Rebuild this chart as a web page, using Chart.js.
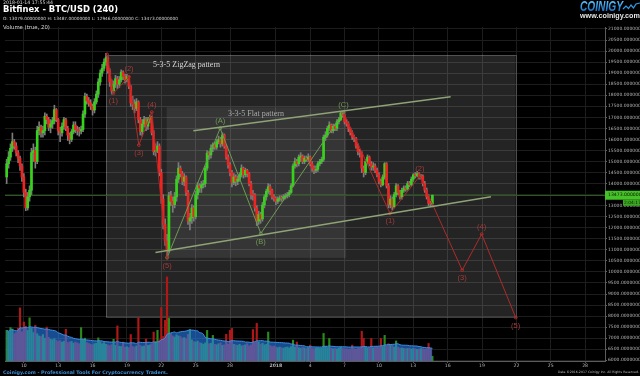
<!DOCTYPE html>
<html>
<head>
<meta charset="utf-8">
<script src="https://cdn.jsdelivr.net/npm/chart.js@4.4.1/dist/chart.umd.min.js"></script>
<style>
  html, body { margin: 0; padding: 0; background: #000; overflow: hidden; }
  canvas { display: block; }
</style>
</head>
<body>
<canvas id="chart" width="640" height="376"></canvas>
<script>
// Bitfinex BTC/USD, 240 minute candles starting 2017-12-08 12:00.
// x is measured in days of December 2017 (so 1 Jan 2018 = 32).
const firstCandleDay = 8.5;
const candleHours = 4;
const firstOpen = 14300;

const closes = [
  14900,15200,15600,15900,15700,15400,15150,14800,14300,13600,12900,13400,
  13700,15400,15500,15000,16400,16550,16300,16400,17050,16900,16550,16700,
  16850,17350,16900,16400,16300,16600,16900,16500,16200,16000,16350,16650,
  16450,16400,16380,16450,17150,17950,17750,17650,17500,17330,17700,18050,
  18600,19000,19220,19500,19700,19100,18600,18200,18500,18750,18500,18700,
  19050,18850,18700,18850,18400,17650,17600,17400,17700,16900,16350,16700,
  16900,16600,16900,17000,16300,15450,15500,15700,14500,13300,12150,11400,
  10950,13450,13200,13050,13400,14200,14700,14450,14100,14300,13600,12300,
  12450,12900,12500,13500,13900,13800,13950,14000,14700,15380,15300,15600,
  15750,15650,15900,16000,15800,16200,15700,15200,14850,14500,14050,14300,
  14100,14200,14400,14700,14400,14600,14450,14000,13500,13480,12900,12300,
  12600,12400,13030,13400,13650,13860,13700,13400,13330,13200,13300,13350,
  13330,13400,13450,13500,13600,13900,14800,15000,14900,15200,15250,15000,
  15150,15100,15200,14900,14700,14600,14650,14900,15000,15100,16100,16200,
  16500,16650,16400,16600,16500,16800,16900,17200,17100,16800,16700,16500,
  16300,16100,16050,15700,15450,15400,14700,14500,15000,15200,14900,14750,
  14800,14600,14400,14100,13950,14300,14900,13900,13050,13300,12950,13500,
  13900,13600,13400,13700,13800,13750,14000,13950,14200,14400,14350,14450,
  14300,14350,14000,13700,13400,13100,13079,13473
];

const highs = [
  15100,15450,15800,16290,16000,15850,15500,15250,14900,14450,13750,13600,
  13900,15600,15800,15650,16600,16800,16650,16600,17200,17150,17000,16900,
  17000,17550,17400,16950,16550,16750,17000,16950,16600,16300,16450,16800,
  16800,16600,16550,16600,17300,18100,18050,17900,17800,17600,17850,18200,
  18750,19150,19400,19650,19900,19750,19200,18700,18650,18900,18850,18850,
  19150,19100,18950,18950,18900,18450,17950,17800,17850,17750,17000,16900,
  17050,17000,17000,17100,17050,16400,15800,15900,15800,14650,13500,12400,
  11700,13600,13650,13400,13600,14350,14950,14800,14550,14450,14350,13700,
  12650,13050,13000,13650,14050,14000,14100,14150,14800,15500,15450,15750,
  15850,15850,16000,16150,16100,16300,16250,15750,15300,14950,14600,14450,
  14400,14350,14500,14850,14750,14700,14650,14500,14100,13700,13550,13000,
  12750,12700,13150,13500,13750,14000,13950,13750,13500,13400,13400,13450,
  13450,13500,13550,13600,13700,14000,14900,15150,15100,15300,15400,15300,
  15250,15250,15350,15250,15000,14800,14800,15000,15100,15200,16200,16350,
  16600,16800,16700,16700,16700,16900,17000,17250,17250,17150,16900,16800,
  16550,16400,16200,16100,15800,15550,15450,14800,15100,15300,15250,15000,
  14950,14900,14700,14500,14200,14400,14950,14950,14000,13450,13400,13600,
  14000,13950,13700,13800,13900,13900,14100,14100,14300,14450,14500,14550,
  14500,14420,14400,14100,13800,13500,13200,13487
];

const lows = [
  14000,14700,15050,15450,15550,15250,14950,14600,14100,13400,12770,12800,
  13200,13500,15000,14700,14900,16200,16100,16100,16200,16700,16400,16300,
  16500,16700,16800,16200,15900,16150,16450,16400,15950,15800,15900,16250,
  16300,16200,16150,16250,16350,17000,17600,17500,17350,17100,17200,17600,
  17900,18450,18850,19100,19350,19000,18400,18050,18100,18350,18300,18350,
  18600,18700,18550,18600,18300,17500,17350,17200,17300,16750,16200,16150,
  16550,16400,16450,16750,16200,15300,15250,15400,14350,13100,11950,11200,
  10700,10900,13000,12700,12900,13200,14050,14300,13950,13900,13450,12150,
  11900,12200,12300,12400,13300,13600,13600,13800,13850,14600,15100,15150,
  15450,15550,15550,15800,15650,15700,15600,15100,14700,14350,13850,13950,
  13900,13950,14100,14300,14250,14300,14300,13900,13300,13250,12750,12100,
  12150,12200,12300,12900,13250,13550,13500,13300,13200,13050,13100,13200,
  13200,13250,13300,13350,13400,13550,13850,14700,14750,14800,15000,14900,
  14900,15000,15000,14800,14550,14450,14500,14550,14800,14900,15000,15950,
  16100,16400,16300,16300,16400,16400,16700,16850,17000,16700,16600,16350,
  16200,16000,15900,15600,15300,15200,14500,14300,14400,14900,14800,14600,
  14600,14500,14300,14000,13850,13900,14200,13800,12900,12900,12800,12900,
  13400,13500,13300,13300,13600,13650,13700,13850,13900,14100,14250,14300,
  14200,14200,13900,13600,13300,13000,12950,12946
];

const volumes = [
  11000,10500,12000,11500,9800,10200,11800,19100,10500,14000,12500,11000,
  15500,11800,10200,12800,9800,9000,8800,9500,8200,12200,8500,7800,
  7600,8000,7400,7000,7300,6800,7100,11400,6600,6900,7000,6400,
  6800,6500,6200,12000,7600,8200,6600,6300,6000,5800,6200,6400,
  8300,6900,6200,6600,6000,5800,5500,5900,7800,5600,12600,5300,
  5200,6800,5000,5100,4800,9500,5200,5000,5400,15600,5600,5200,
  5400,7900,5600,5800,6200,10400,7000,11000,7600,19200,8800,14600,
  30200,15300,9800,9000,8600,9400,9000,8800,8200,8400,8000,9600,
  11300,7600,7000,6800,7200,6600,6400,6000,6500,11000,6200,6400,
  9200,6000,5800,6200,6500,5600,5800,9600,6000,11000,11700,6000,
  5800,5600,6000,5400,5600,5800,6200,5400,5800,11300,6600,13500,
  6800,6000,6400,5800,6000,10400,5600,5200,5400,5000,4800,5000,
  4800,4600,4900,5000,4700,5200,7500,5000,6800,4800,4600,4900,
  4700,4500,4800,5700,4500,4400,4600,4700,4500,4600,9900,5200,
  4800,8100,4600,4400,4500,4300,4600,5000,4500,4300,4400,4200,
  4300,5700,4400,4200,4500,4600,10700,8100,5000,4600,4800,8100,
  4700,4900,5000,4800,8100,5200,9200,5400,6200,5800,5600,5000,
  7200,5000,4600,4700,4500,4400,4500,4600,4300,4500,4400,4200,
  4300,4500,4400,4200,4300,6300,4400,1700
];
const volumeMaPeriod = 20;

const dateTicks = [10, 13, 16, 19, 22, 25, 28, 32, 35, 38, 41, 44, 47, 50, 53, 56, 59];
const dateTickLabels = ['10', '13', '16', '19', '22', '25', '28', '2018', '4', '7', '10', '13', '16', '19', '22', '25', '28'];
const priceTicks = [6000, 6500, 7000, 7500, 8000, 8500, 9000, 9500, 10000, 10500, 11000, 11500, 12000,
  12500, 13000, 13500, 14000, 14500, 15000, 15500, 16000, 16500, 17000, 17500, 18000, 18500, 19000,
  19500, 20000, 20500, 21000];

// hand drawn Elliott wave annotations, [day, price]
const zigzagWave = [[17.27, 19850], [17.82, 18087], [19.18, 18839], [20.04, 15744], [21.17, 17239], [22.51, 10650]];
const zigzagLabels = ['', '(1)', '(2)', '(3)', '(4)', '(5)'];
const flatWave = [[22.51, 10650], [27.14, 16501], [30.69, 11743], [37.90, 17226]];
const flatLabels = ['', '(A)', '(B)', '(C)'];
const forecastWave = [[37.90, 17226], [41.97, 12649], [44.57, 14340], [48.27, 10080], [49.97, 11711], [52.94, 7937]];
const forecastLabels = ['', '(1)', '(2)', '(3)', '(4)', '(5)'];
const channelTop = [[24.80, 16392], [47.26, 17933]];
const channelBottom = [[21.49, 10882], [50.78, 13401]];
// boxes: [dayFrom, dayTo, priceTop, priceBottom]
const zigzagBox = [17.17, 52.94, 19820, 7950];
const flatBox = [22.47, 38.14, 17452, 10638];
const boxTitles = [
  { text: '5-3-5 ZigZag pattern', day: 24.2, price: 19370 },
  { text: '3-3-5 Flat pattern', day: 30.26, price: 17135 }
];

const stamp = '2018-01-14 17:55:44';
const title = 'Bitfinex - BTC/USD (240)';
const countdown = '2:04:17';

// ---------------------------------------------------------------
const GREEN = '#36d31b';
const RED = '#ef2320';
const WAVE_RED = '#ad2c2a';
const WAVE_GREEN = '#6f9a56';

const candleX = closes.map((c, i) => firstCandleDay + i * candleHours / 24);
// each 4h candle opens at the previous close
const opens = closes.map((c, i) => (i ? closes[i - 1] : firstOpen));
const rising = closes.map((c, i) => c >= opens[i]);
const volumeMa = volumes.map((v, i) => {
  const win = volumes.slice(Math.max(0, i - volumeMaPeriod + 1), i + 1);
  return win.reduce((a, b) => a + b, 0) / win.length;
});
const last = closes.length - 1;

const pts = arr => arr.map(([x, y]) => ({ x, y }));

function waveSet(points, color, width, radius) {
  return {
    type: 'line', data: pts(points), order: 0,
    borderColor: color, borderWidth: width, tension: 0, fill: false,
    pointRadius: radius, pointBorderColor: color, pointBorderWidth: 1,
    pointBackgroundColor: 'rgba(0,0,0,0)', yAxisID: 'y'
  };
}

function fitFont(ctx, text, width, style, family) {
  ctx.font = `${style} 10px ${family}`;
  const size = 10 * width / ctx.measureText(text).width;
  ctx.font = `${style} ${size.toFixed(2)}px ${family}`;
}

const annotations = {
  id: 'annotations',
  beforeDatasetsDraw(chart) {
    const { ctx, chartArea, scales: { x, y } } = chart;
    ctx.save();
    const box = (b, fill, stroke) => {
      const x0 = x.getPixelForValue(b[0]), x1 = x.getPixelForValue(b[1]);
      const y0 = y.getPixelForValue(b[2]), y1 = y.getPixelForValue(b[3]);
      ctx.fillStyle = fill;
      ctx.fillRect(x0, y0, x1 - x0, y1 - y0);
      if (stroke) {
        ctx.strokeStyle = stroke;
        ctx.lineWidth = 1;
        ctx.strokeRect(Math.round(x0) + 0.5, Math.round(y0) + 0.5, Math.round(x1 - x0), Math.round(y1 - y0));
      }
    };
    box(zigzagBox, 'rgba(255,255,255,0.14)', 'rgba(255,255,255,0.22)');
    box(flatBox, 'rgba(255,255,255,0.08)', null);

    ctx.font = '8px "Liberation Serif"';
    ctx.textAlign = 'center';
    ctx.textBaseline = 'middle';
    boxTitles.forEach((t, i) => {
      ctx.fillStyle = i ? '#a9a9a9' : '#d8d8d8';
      ctx.fillText(t.text, x.getPixelForValue(t.day), y.getPixelForValue(t.price));
    });

    // last price line
    const py = Math.round(y.getPixelForValue(closes[last])) + 0.5;
    ctx.strokeStyle = '#2c5a1c';
    ctx.lineWidth = 1;
    ctx.beginPath();
    ctx.moveTo(chartArea.left, py);
    ctx.lineTo(chartArea.right, py);
    ctx.stroke();
    ctx.restore();
  },
  afterDatasetsDraw(chart) {
    const { ctx, scales: { x, y } } = chart;
    ctx.save();
    ctx.font = '7.5px "Liberation Sans"';
    ctx.textAlign = 'center';
    ctx.textBaseline = 'middle';
    const label = (points, names, color) => {
      ctx.fillStyle = color;
      points.forEach((p, i) => {
        if (!names[i]) return;
        const up = p[1] > points[i - 1][1];
        ctx.fillText(names[i], x.getPixelForValue(p[0]), y.getPixelForValue(p[1]) + (up ? -7.5 : 8));
      });
    };
    label(zigzagWave, zigzagLabels, '#a23c3a');
    label(flatWave, flatLabels, WAVE_GREEN);
    label(forecastWave, forecastLabels, '#a23c3a');
    ctx.restore();
  },
  afterDraw(chart) {
    const { ctx, chartArea, scales: { y } } = chart;
    ctx.save();
    ctx.textBaseline = 'middle';
    ctx.textAlign = 'left';

    // header
    ctx.fillStyle = '#cfcfcf';
    fitFont(ctx, stamp, 50, '', '"DejaVu Sans"');
    ctx.fillText(stamp, 3, 2.8);
    ctx.fillStyle = '#ffffff';
    fitFont(ctx, title, 115, 'bold', '"DejaVu Sans"');
    ctx.fillText(title, 3, 9.8);
    const ohlc = `O: ${opens[last].toFixed(8)} H: ${highs[last].toFixed(8)} L: ${lows[last].toFixed(8)} C: ${closes[last].toFixed(8)}`;
    ctx.fillStyle = '#d6d6d6';
    fitFont(ctx, ohlc, 175, '', '"DejaVu Sans"');
    ctx.fillText(ohlc, 3, 19);
    const volTitle = `Volume (true, ${volumeMaPeriod})`;
    fitFont(ctx, volTitle, 47, '', '"DejaVu Sans"');
    ctx.fillText(volTitle, 3, 27.4);

    // logo
    ctx.save();
    ctx.font = 'italic bold 15px "Liberation Sans"';
    const lw = ctx.measureText('COINIGY').width;
    ctx.translate(580, 11);
    ctx.scale(43 / lw, 0.95);
    const grad = ctx.createLinearGradient(0, -11, 0, 0);
    grad.addColorStop(0, '#5cc4ff');
    grad.addColorStop(1, '#1672c9');
    ctx.fillStyle = grad;
    ctx.textBaseline = 'alphabetic';
    ctx.fillText('COINIGY', 0, 0);
    ctx.restore();
    ctx.strokeStyle = '#2f9be8';
    ctx.lineWidth = 1.2;
    ctx.beginPath();
    [[623, 9], [626, 6], [628.5, 8.5], [631, 5], [633.5, 8], [636, 4], [640, 3]].forEach(([px, pyy], i) => i ? ctx.lineTo(px, pyy) : ctx.moveTo(px, pyy));
    ctx.stroke();
    ctx.fillStyle = '#e4e4e4';
    fitFont(ctx, 'www.coinigy.com', 60, 'bold', '"Liberation Sans"');
    ctx.fillText('www.coinigy.com', 580, 15.6);

    // price tag
    const py = y.getPixelForValue(closes[last]);
    ctx.fillStyle = '#45c227';
    ctx.fillRect(chartArea.right, py - 4.5, 640 - chartArea.right, 9);
    ctx.fillStyle = '#0b1a06';
    ctx.font = '4.6px "DejaVu Sans"';
    ctx.fillText(closes[last].toFixed(8), chartArea.right + 3, py);
    ctx.fillStyle = '#3aa820';
    ctx.fillRect(623, py + 4.5, 17, 6);
    ctx.fillStyle = '#0b1a06';
    ctx.font = '4.4px "DejaVu Sans"';
    ctx.fillText(countdown, 624, py + 7.6);

    // footer
    ctx.fillStyle = '#3d8fd6';
    const foot = 'Coinigy.com - Professional Tools For Cryptocurrency Traders.';
    fitFont(ctx, foot, 165, 'bold', '"DejaVu Sans"');
    ctx.fillText(foot, 3, 372.5);
    ctx.fillStyle = '#bdbdbd';
    const rights = 'Data \u00a92016-2017 Coinigy Inc. All Rights Reserved.';
    fitFont(ctx, rights, 81, '', '"DejaVu Sans"');
    ctx.fillText(rights, 558, 372.5);
    ctx.restore();
  }
};

Chart.defaults.font.family = '"DejaVu Sans", "Liberation Sans", sans-serif';

new Chart(document.getElementById('chart'), {
  type: 'bar',
  data: {
    datasets: [
      waveSet(channelTop, '#8ea376', 1.6, 0),
      waveSet(channelBottom, '#8ea376', 1.6, 0),
      waveSet(zigzagWave, WAVE_RED, 1, 1.4),
      waveSet(flatWave, WAVE_GREEN, 1, 1.4),
      waveSet(forecastWave, WAVE_RED, 1, 1.4),
      {
        label: 'body', order: 1, grouped: false, yAxisID: 'y',
        data: candleX.map((x, i) => ({ x, y: [opens[i], closes[i]] })),
        backgroundColor: rising.map(r => (r ? GREEN : RED)),
        barThickness: 2, minBarLength: 1, borderWidth: 0
      },
      {
        label: 'wick', order: 2, grouped: false, yAxisID: 'y',
        data: candleX.map((x, i) => ({ x, y: [lows[i], highs[i]] })),
        backgroundColor: '#7c7c7c', barThickness: 1, borderWidth: 0
      },
      {
        type: 'line', label: 'volume ma', order: 3, yAxisID: 'v',
        data: candleX.map((x, i) => ({ x, y: volumeMa[i] })),
        borderColor: '#3d8fe6', borderWidth: 1, pointRadius: 0, tension: 0.3,
        fill: 'origin', backgroundColor: 'rgba(38,128,240,0.6)'
      },
      {
        label: 'volume', order: 4, grouped: false, yAxisID: 'v',
        data: candleX.map((x, i) => ({ x, y: volumes[i] })),
        backgroundColor: rising.map(r => (r ? '#2c8a1c' : '#b01818')),
        barThickness: 1.5, borderWidth: 0
      }
    ]
  },
  options: {
    responsive: false,
    animation: false,
    events: [],
    layout: { padding: { top: 27, left: 0, right: 0, bottom: 6 } },
    plugins: { legend: { display: false }, tooltip: { enabled: false } },
    scales: {
      x: {
        type: 'linear', min: 8.355, max: 60.736, offset: false,
        grid: { offset: false, color: '#1d1d1d', tickLength: 2, tickColor: '#555' },
        border: { color: '#5c5c5c' },
        afterBuildTicks: s => { s.ticks = dateTicks.map(value => ({ value })); },
        afterFit: s => { s.height = 9; },
        ticks: {
          autoSkip: false, maxRotation: 0, padding: 0, color: '#b4b4b4',
          font: c => ({ size: 4.6, weight: c.tick && c.tick.value === 32 ? 'bold' : 'normal' }),
          callback: v => dateTickLabels[dateTicks.indexOf(v)]
        }
      },
      y: {
        type: 'linear', position: 'right', min: 5968, max: 21090,
        grid: { color: '#1d1d1d', tickLength: 2, tickColor: '#666' },
        border: { color: '#5c5c5c' },
        afterBuildTicks: s => { s.ticks = priceTicks.map(value => ({ value })); },
        afterFit: s => { s.width = 35; },
        ticks: {
          autoSkip: false, padding: 1, color: '#b4b4b4', font: { size: 4.5 },
          callback: v => Number(v).toFixed(8)
        }
      },
      v: { type: 'linear', display: false, min: 0, max: 120000 }
    }
  },
  plugins: [annotations]
});
</script>
</body>
</html>
